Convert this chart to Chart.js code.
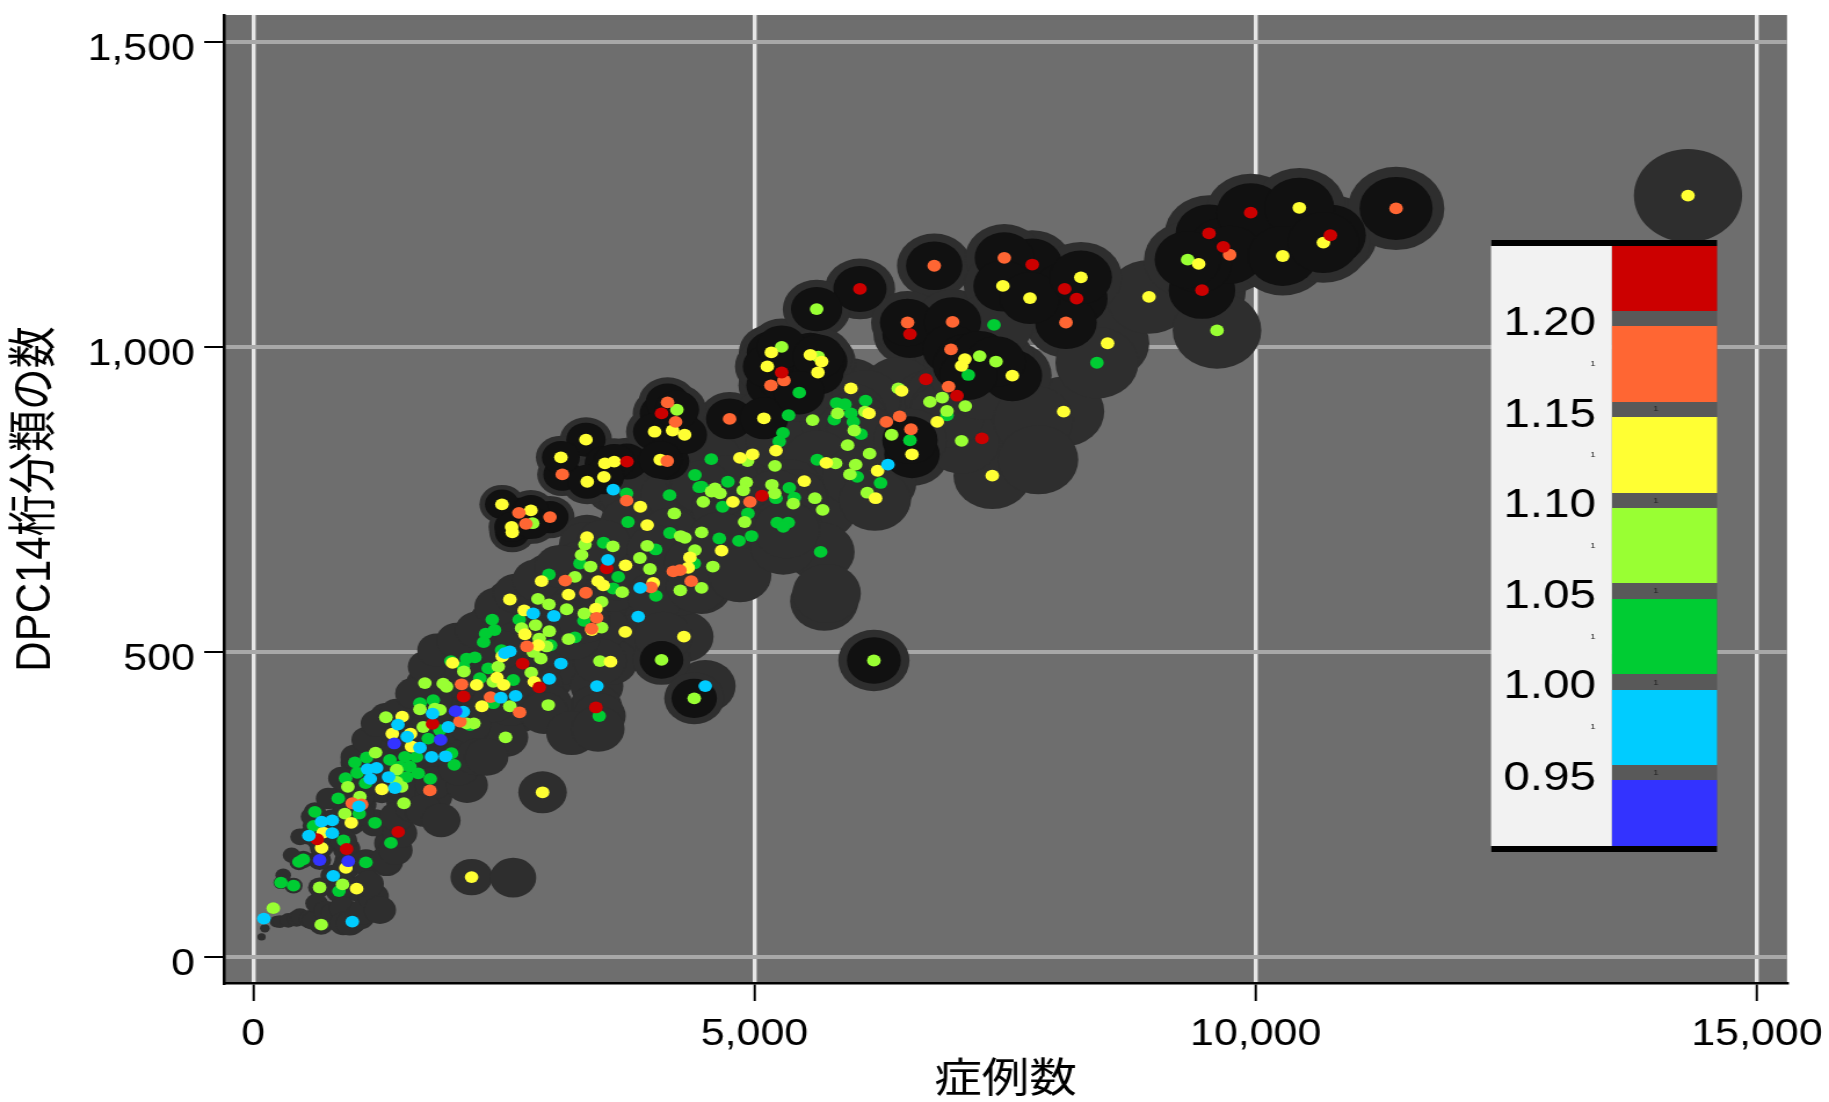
<!DOCTYPE html>
<html lang="ja"><head><meta charset="utf-8">
<style>html,body{margin:0;padding:0;background:#fff;overflow:hidden}#c{display:block;transform-origin:0 0;transform:scaleX(1.1598)}</style>
<script src="https://cdn.jsdelivr.net/npm/chart.js@4/dist/chart.umd.min.js"></script>
</head><body><canvas id="c" width="1577" height="1102"></canvas>
<script>
const xTickValues=[0,5000,10000,15000];
const yTickValues=[0,500,1000,1500];
const xTitle='症例数';
const yTitle='DPC14桁分類の数';
const legendLabels=['1.20','1.15','1.10','1.05','1.00','0.95'];
const legendColors=['#CC0000','#FF6633','#FFFF33','#99FF33','#00CC33','#00CCFF','#3333FF'];

const cyan=[[106,63],[988,58],[798,133],[555,199],[788,203],[682,222],[788,224],[1054,247],[1167,292],[1350,295],[1413,277],[1140,308],[1230,310],[1779,328],[1919,329],[1663,343],[1536,361],[1443,381],[1789,399],[1945,377],[2095,402],[2470,425],[2617,428],[2953,456],[3069,481],[3428,444],[2510,498],[2560,501],[2793,563],[2999,559],[3840,558],[3860,605],[3538,651],[3591,766],[4509,444],[6331,807]];
const blue=[[662,159],[948,157],[1406,350],[1869,356],[2018,403]];
const red=[[638,193],[931,177],[1446,205],[1789,382],[2098,427],[2687,481],[2853,442],[3418,409],[3525,637],[6710,947],[7020,920],[7269,850],[5074,756]];
const redF=[[3728,812],[4073,891],[6052,1095],[5271,958],[7771,1135],[8094,1095],[8213,1079],[6551,1021],[9534,1186],[9677,1164],[9950,1220],[10745,1183],[9464,1093]];
const orange=[[988,252],[1081,250],[1762,273],[2078,447],[2062,386],[2367,426],[2657,401],[2730,509],[3425,556],[3375,538],[3112,617],[3318,597],[3724,748],[4256,634],[4190,632],[3967,606],[4369,616],[6936,935],[6315,877],[6448,886],[6561,865],[4955,746]];
const orangeF=[[2650,728],[2720,710],[2960,721],[3083,791],[4133,909],[4213,877],[4130,813],[5164,937],[5294,945],[4752,882],[6793,1133],[7492,1146],[6527,1040],[6976,1041],[6960,996],[8107,1040],[9740,1151],[11400,1227]];
const yellow=[[1031,112],[924,146],[682,179],[698,204],[978,220],[1283,275],[1387,366],[1486,394],[1569,366],[1579,345],[1988,482],[2228,446],[2431,458],[2497,446],[2281,411],[2803,451],[2843,511],[2710,529],[2484,493],[2560,586],[2703,568],[2876,616],[3145,594],[3418,571],[3441,616],[3491,609],[3378,536],[3711,533],[3564,484],[2886,270],[2178,131],[3714,642],[3861,738],[3930,708],[3329,688],[4356,655],[4339,638],[3990,613],[4296,525],[5962,932],[6468,928],[6142,891],[5214,830],[4855,818],[4981,824],[5716,810],[4785,746],[5497,780],[4672,666],[6823,877],[6228,797],[6208,752],[7372,789],[8084,894],[8522,1006],[8935,1082],[14312,1248]];
const yellowF=[[2481,742],[2770,732],[2584,696],[2577,705],[3319,848],[3069,819],[3508,809],[3601,812],[3498,787],[3332,779],[4004,861],[4183,863],[4303,856],[4060,815],[5168,991],[5128,968],[5557,987],[5670,976],[5633,958],[5094,883],[7099,980],[7066,969],[7572,953],[6571,824],[7478,1100],[7748,1080],[8256,1114],[9431,1136],[10435,1228],[10269,1149],[10675,1171]];
const lime=[[200,80],[678,53],[662,114],[891,119],[1503,252],[944,279],[914,235],[1064,263],[1430,307],[1220,335],[1323,393],[1696,377],[1663,406],[1812,407],[1712,449],[2101,468],[1928,443],[1895,448],[2201,383],[2517,360],[2773,466],[2943,413],[2869,489],[2444,476],[2394,451],[2816,544],[2677,539],[2953,534],[3145,521],[2853,522],[2840,587],[2949,578],[3126,570],[3209,623],[3275,659],[3365,640],[3681,598],[3475,582],[3475,540],[3302,563],[3857,654],[3458,485],[2560,411],[1862,405],[1480,279],[2926,509],[1430,287],[2793,500],[2128,383],[4200,727],[4263,690],[4306,687],[3309,676],[3588,673],[3930,674],[3957,636],[4406,667],[4585,640],[4260,601],[4472,605],[5580,880],[6434,932],[5829,891],[6102,894],[5995,863],[4931,813],[5204,805],[5809,809],[5929,839],[6148,825],[6009,807],[5952,791],[6368,856],[6750,910],[6873,917],[7103,903],[6920,895],[7066,846],[6125,761],[4918,778],[4888,765],[5174,774],[5201,760],[5387,743],[5603,752],[5680,733],[4902,713],[4572,763],[4656,760],[4606,768],[4489,746],[4473,696],[9614,1027]];
const limeF=[[2787,711],[4226,897],[4073,487],[4399,424],[6191,486],[5271,1000],[5620,1062],[5636,984],[7246,985],[7409,976],[9321,1143]];
const green=[[276,122],[402,117],[456,156],[499,160],[855,108],[1124,155],[1373,187],[1214,220],[901,191],[615,238],[602,215],[848,260],[921,293],[1057,235],[1121,285],[1037,302],[1014,319],[1131,327],[1363,323],[1513,328],[1629,328],[1563,312],[1530,295],[1646,301],[1766,292],[2005,315],[1978,334],[1746,358],[1862,372],[1663,416],[1796,421],[1972,485],[2128,489],[2211,491],[2095,476],[2344,473],[2261,457],[2594,454],[2394,416],[2161,380],[2384,553],[2318,530],[2407,536],[2298,516],[2653,553],[2477,503],[2966,511],[3451,395],[2949,627],[3209,524],[3259,645],[3298,551],[3591,604],[3641,623],[1397,295],[1463,312],[3724,760],[4153,757],[3738,713],[4406,790],[4449,770],[4157,695],[3495,679],[4014,668],[4399,645],[4017,592],[5340,888],[5284,859],[5247,845],[4569,816],[5819,908],[5902,906],[6109,912],[5962,891],[5796,881],[5986,877],[6062,857],[5626,815],[6025,787],[6258,777],[6920,888],[7389,1036],[8416,974],[4735,779],[4473,771],[4682,738],[5347,769],[5397,753],[5214,752],[4935,727],[5227,712],[5337,712],[5287,705],[4971,690],[4845,682],[4649,686],[5660,664]];
const greenF=[[5447,925],[6551,847],[7133,954]];
const noDot=[[83,33],[116,47],[233,58],[266,58],[350,60],[432,63],[466,66],[560,62],[599,60],[632,88],[720,75],[798,71],[890,80],[898,55],[964,55],[1064,66],[1097,74],[1197,99],[1264,77],[1150,120],[1330,156],[1330,159],[1420,175],[1463,203],[1430,230],[1596,246],[1629,274],[1795,263],[1795,285],[1700,240],[1873,224],[2133,282],[2050,310],[2228,328],[2328,328],[2593,130],[2900,400],[3176,367],[3440,374],[4090,525],[4422,607],[4855,626],[5287,673],[5320,700],[5696,583],[5720,596],[6201,749],[7282,935],[7781,880],[7831,815],[299,134],[382,167],[466,197],[582,230],[748,260],[881,293],[1014,328],[1131,356],[1230,383],[1430,399],[1596,432],[1729,476],[1829,503],[2028,519],[2228,536],[2427,574],[2627,596],[2826,618],[3059,640]];

const K=1829/1577;
const toPts=a=>a.map(p=>({x:p[0],y:p[1]}));
const outerR=ctx=>0.39*Math.sqrt(ctx.raw.x);
const innerR=ctx=>0.295*Math.sqrt(ctx.raw.x);
const allPts=[].concat(cyan,blue,red,redF,orange,orangeF,yellow,yellowF,lime,limeF,green,greenF,noDot);
const flagged=[].concat(redF,orangeF,yellowF,limeF,greenF);
const dots=(data,color,order)=>({data:toPts(data),backgroundColor:color,borderWidth:0,pointRadius:5.9,order});
const datasets=[
 {data:toPts(allPts),backgroundColor:'#2e2e2e',borderWidth:0,pointRadius:outerR,order:20},
 {data:toPts(flagged),backgroundColor:'#111111',borderWidth:0,pointRadius:innerR,order:19},
 dots(green.concat(greenF),legendColors[4],7),
 dots(lime.concat(limeF),legendColors[3],6),
 dots(yellow.concat(yellowF),legendColors[2],5),
 dots(orange.concat(orangeF),legendColors[1],4),
 dots(red.concat(redF),legendColors[0],3),
 dots(cyan,legendColors[5],2),
 dots(blue,legendColors[6],1)
];
const panelPlugin={id:'panel',
 beforeDraw(c){const a=c.chartArea,g=c.ctx;g.save();g.fillStyle='#6e6e6e';g.fillRect(a.left,a.top,a.right-a.left,a.bottom-a.top);g.restore();},
 afterDatasetsDraw(c){const g=c.ctx;g.save();
  const X=v=>v/K;
  g.fillStyle='#f2f2f2';g.fillRect(X(1491),240,X(1612)-X(1491),612);
  g.fillStyle='#595959';g.fillRect(X(1612),246,X(1717)-X(1612),600);
  const tops=[246,326,417,508,599,690,780],bots=[311,402,493,583,674,765,846];
  legendColors.forEach((col,i)=>{g.fillStyle=col;g.fillRect(X(1612),tops[i],X(1717)-X(1612),bots[i]-tops[i]);});
  g.fillStyle='#000';g.fillRect(X(1491),240,X(1717)-X(1491),6);g.fillRect(X(1491),846,X(1717)-X(1491),6);
  g.textAlign='right';g.textBaseline='middle';g.font='41px "Liberation Sans"';g.fillStyle='#000';
  const ys=[320,412,502,593,683,775];
  legendLabels.forEach((t,i)=>g.fillText(t,X(1596),ys[i]+4));
  g.font='8px "Liberation Sans"';g.textAlign='center';g.fillStyle='#222';
  [364,455,546,637,727].forEach(y=>g.fillText('1',X(1593),y));
  [409,501,591,683,773].forEach(y=>g.fillText('1',X(1656),y));
  g.restore();}
};
const font={family:'"Liberation Sans","Noto Sans CJK JP"',size:37};
new Chart(document.getElementById('c'),{type:'scatter',data:{datasets},plugins:[panelPlugin],options:{
 responsive:false,animation:false,devicePixelRatio:1,events:[],
 layout:{autoPadding:false,padding:{left:0,right:36.2,top:15,bottom:0}},
 plugins:{legend:{display:false},tooltip:{enabled:false},title:{display:false}},
 scales:{
  x:{type:'linear',min:-292,max:15300,
   afterBuildTicks:a=>{a.ticks=xTickValues.map(v=>({value:v}));},
   afterFit:s=>{s.height=119;s.paddingLeft=0;s.paddingRight=0;},
   grid:{color:'#e6e6e6',lineWidth:3.45,tickColor:'#000',tickWidth:2,tickLength:18},
   border:{color:'#000',width:2.5},
   ticks:{color:'#000',font,maxRotation:0,autoSkip:false,padding:12,callback:v=>v.toLocaleString('en-US')},
   title:{display:true,text:xTitle,color:'#000',font:{...font,size:41},padding:{top:0,bottom:-3}}},
  y:{type:'linear',min:-42.6,max:1544,
   afterBuildTicks:a=>{a.ticks=yTickValues.map(v=>({value:v}));},
   afterFit:s=>{s.width=193.1;s.paddingTop=0;s.paddingBottom=0;},
   grid:{color:'#a8a8a8',lineWidth:4,tickColor:'#000',tickWidth:2,tickLength:17},
   border:{color:'#000',width:2.5},
   ticks:{color:'#000',font,autoSkip:false,padding:8,labelOffset:8,callback:v=>v.toLocaleString('en-US')},
   title:{display:true,text:yTitle,color:'#000',font:{...font,size:42},padding:{top:6,bottom:0}}}
 }}});
</script></body></html>
